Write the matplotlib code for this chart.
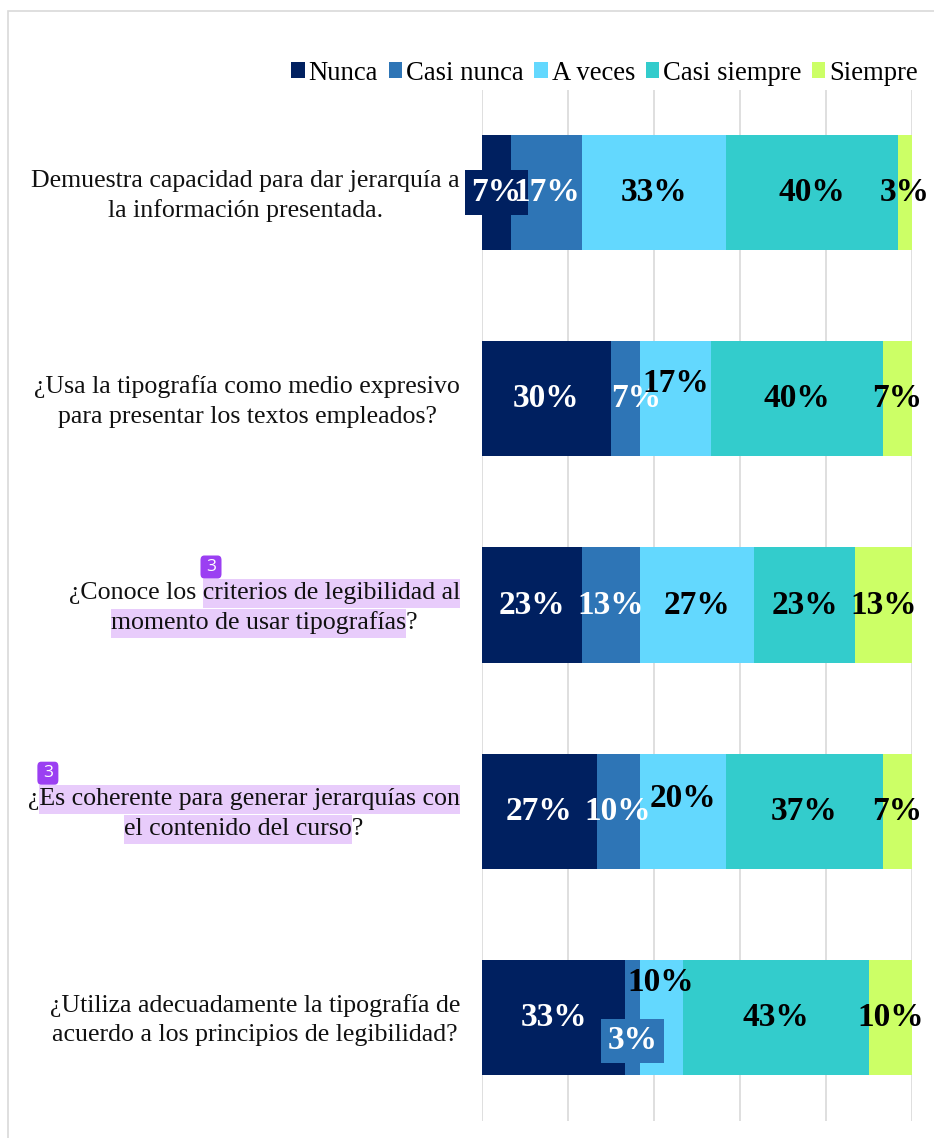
import numpy as np
import matplotlib.pyplot as plt
from matplotlib.patches import Rectangle, FancyBboxPatch
from matplotlib.font_manager import FontProperties

'''
Encuesta tipografia - barras apiladas al 100%
'''

W, H = 934, 1138

# respuestas (n = 30 por pregunta)
series = ["Nunca", "Casi nunca", "A veces", "Casi siempre", "Siempre"]
nunca = [2, 9, 7, 8, 10]
casi_nunca = [5, 2, 4, 3, 1]
a_veces = [10, 5, 8, 6, 3]
casi_siempre = [12, 12, 7, 11, 13]
siempre = [1, 2, 4, 2, 3]

# each line is a list of (text, highlighted) pieces
questions = [
    [[("Demuestra capacidad para dar jerarquía a", False)],
     [("la información presentada.", False)]],
    [[("¿Usa la tipografía como medio expresivo", False)],
     [("para presentar los textos empleados?", False)]],
    [[("¿Conoce los ", False), ("criterios de legibilidad al", True)],
     [("momento de usar tipografías", True), ("?", False)]],
    [[("¿", False), ("Es coherente para generar jerarquías con", True)],
     [("el contenido del curso", True), ("?", False)]],
    [[("¿Utiliza adecuadamente la tipografía de", False)],
     [("acuerdo a los principios de legibilidad?", False)]],
]

colors = ['#002060', '#2E75B6', '#63D8FE', '#33CCCC', '#CCFF66']
txt_colors = ['white', 'white', 'black', 'black', 'black']

counts = np.array([nunca, casi_nunca, a_veces, casi_siempre, siempre], float)
pct = counts / counts.sum(axis=0) * 100

# label nudges (question, series) -> (dx in %, dy in category units), and boxed labels
nudge = {(1, 1): (2.5, 0), (1, 2): (0, -0.075), (3, 2): (0, -0.063),
         (4, 2): (0, -0.17), (4, 1): (0, 0.114)}
boxed = {(0, 0), (4, 1)}

fig = plt.figure(figsize=(W / 100, H / 100), dpi=100)
ax = fig.add_axes([482 / W, (H - 1120.5) / H, 430 / W, 1031 / H])

n = len(questions)
y = np.arange(n)
left = np.zeros(n)
for k in range(5):
    ax.barh(y, pct[k], left=left, height=0.558, color=colors[k],
            label=series[k], zorder=2)
    for i in range(n):
        dx, dy = nudge.get((i, k), (0, 0))
        kw = {}
        if (i, k) in boxed:
            kw['bbox'] = dict(facecolor=colors[k], edgecolor='none',
                              boxstyle='square,pad=0.2')
        ax.text(left[i] + pct[k][i] / 2 + dx, i + dy, f"{pct[k][i]:.0f}%",
                ha='center', va='center', fontsize=24, fontweight='bold',
                family='Liberation Serif', color=txt_colors[k], zorder=4, **kw)
    left += pct[k]

ax.set_xlim(0, 100)
ax.set_ylim(n - 0.5, -0.5)
ax.set_xticks(np.arange(0, 101, 20))
ax.set_yticks([])
ax.tick_params(length=0, labelbottom=False)
ax.grid(axis='x', color='#D9D9D9', lw=1.2)
ax.set_axisbelow(True)
for s in ax.spines.values():
    s.set_visible(False)

ax.legend(loc='center right', bbox_to_anchor=(918 / W, 1 - 73 / H),
          bbox_transform=fig.transFigure, ncol=5, frameon=False,
          prop={'family': 'Liberation Serif', 'size': 19.2},
          handlelength=0.5, handleheight=0.5, handletextpad=0.15,
          columnspacing=0.4, borderpad=0, borderaxespad=0)

# chart area border (only left/top visible in the crop)
fig.add_artist(Rectangle((8 / W, -0.01), 1.0, (H - 11) / H + 0.01,
                         transform=fig.transFigure, fill=False,
                         ec='#D9D9D9', lw=1.2))

# category labels with comment highlights
renderer = fig.canvas.get_renderer()
qfont = dict(family='Liberation Serif', size=18.6)
fp = FontProperties(**qfont)


def tw(s):
    # width with sentinel so trailing spaces count
    w1 = renderer.get_text_width_height_descent(s + "|", fp, ismath=False)[0]
    w0 = renderer.get_text_width_height_descent("|", fp, ismath=False)[0]
    return w1 - w0


for i, lines in enumerate(questions):
    yc = ax.transData.transform((0, i))[1]
    full = ["".join(p[0] for p in ln) for ln in lines]
    maxw = max(tw(s) for s in full)
    xc = 460 - maxw / 2
    for j, ln in enumerate(lines):
        yl = yc + 12 - 30 * j
        s = full[j]
        x0 = xc - tw(s) / 2
        fig.text(x0 / W, yl / H, s, ha='left', va='center', color='#111111',
                 zorder=3, **qfont)
        pos = x0
        for piece, hl in ln:
            w = tw(piece)
            if hl:
                fig.add_artist(Rectangle((pos / W, (yl - 14.5) / H), w / W, 29 / H,
                                         transform=fig.transFigure,
                                         fc='#E8CCFB', ec='none', zorder=1))
                if j == 0:
                    bx, by = pos - 2, yl + 14.5
                    fig.add_artist(FancyBboxPatch((bx / W, by / H), 21 / W, 23 / H,
                                                  boxstyle='round,pad=0,rounding_size=0.004',
                                                  transform=fig.transFigure,
                                                  fc='#9B3FF2', ec='none', zorder=2))
                    fig.text((bx + 10.5) / W, (by + 11.5) / H, "3", ha='center',
                             va='center', color='white', fontsize=12.5,
                             family='Open Sans', zorder=3)
            pos += w

fig.savefig("out.png", dpi=100)
